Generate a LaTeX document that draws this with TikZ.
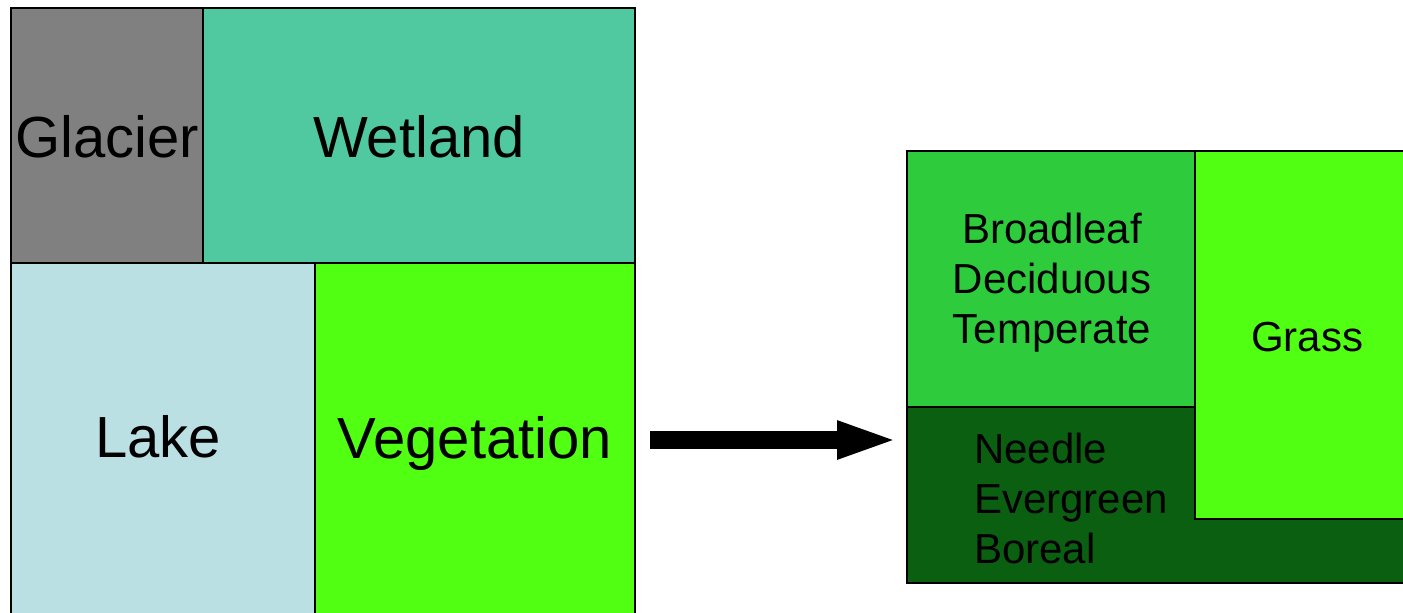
\documentclass[tikz,border=0pt]{standalone}
\usepackage{fontspec}
\setmainfont{Liberation Sans}
\usetikzlibrary{arrows.meta, positioning}
\definecolor{glaciergray}{HTML}{808080}
\definecolor{wetlandgreen}{HTML}{50C9A0}
\definecolor{lakeblue}{HTML}{BBE0E3}
\definecolor{veggreen}{HTML}{51FF12}
\definecolor{broadgreen}{HTML}{2ECC3C}
\definecolor{needlegreen}{HTML}{0B5F10}

\begin{document}
\begin{tikzpicture}[x=0.5pt, y=-0.5pt,
    region/.style={draw=black, line width=0.8pt},
    bigtxt/.style={font=\fontsize{29}{34}\selectfont},
    smalltxt/.style={font=\fontsize{21}{25}\selectfont}]
  \useasboundingbox (0,0) rectangle (1403,612);
  \clip (0,0) rectangle (1403,612);
  % land units
  \foreach \a/\b/\c/\d/\col in {11/8/203/263/glaciergray, 203/8/635/263/wetlandgreen,
      11/263/315/620/lakeblue, 315/263/635/620/veggreen}{
    \filldraw[region, fill=\col] (\a,\b) rectangle (\c,\d);
  }
  \node[bigtxt] (glacier) at (107,137) {Glacier};
  \node[bigtxt] (wetland) at (419,137) {Wetland};
  \node[bigtxt] (lake) at (158,437) {Lake};
  \node[bigtxt] (veg) at (475,443) {Vegetation};
  % plant functional types
  \filldraw[region, fill=needlegreen] (907,407) rectangle (1410,583);
  \filldraw[region, fill=broadgreen] (907,151) rectangle (1195,407);
  \filldraw[region, fill=veggreen] (1195,151) rectangle (1410,519);
  \node[smalltxt, align=center] (broadleaf) at (1052,283) {Broadleaf\\Deciduous\\Temperate};
  \node[smalltxt] (grass) at (1307,337) {Grass};
  \node[smalltxt, align=left, anchor=west] (needle) at (967,498) {Needle\\Evergreen\\Boreal};
  % arrow
  \coordinate (arrowstart) at (650,440);
  \coordinate (arrowtip) at (899,440);
  \draw[line width=9pt, -{Triangle[length=31pt, width=17pt]}] (arrowstart) -- (arrowtip);
\end{tikzpicture}
\end{document}
